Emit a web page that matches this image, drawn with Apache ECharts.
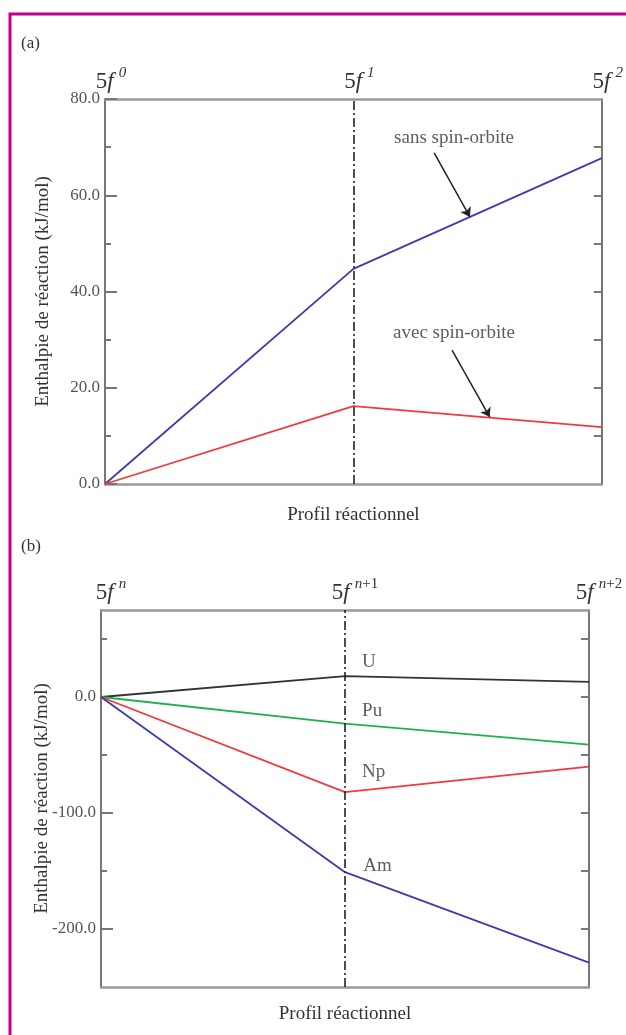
<!DOCTYPE html>
<html>
<head>
<meta charset="utf-8">
<script src="https://cdn.jsdelivr.net/npm/echarts@6/dist/echarts.min.js"></script>
<style>
html,body{margin:0;padding:0;background:#fff;}
#c{width:626px;height:1035px;}
</style>
</head>
<body>
<div id="c"></div>
<script>
// ---------- data ----------
const xPos = [0, 1, 2];
const topSupA = ['0', '1', '2'];
const topSupB = ['n', 'n+1', 'n+2'];

const sansSO = [0, 44.7, 67.7];
const avecSO = [0, 16.2, 11.8];

const seriesU = [0, 18, 13];
const seriesPu = [0, -23, -41];
const seriesNp = [0, -82, -60];
const seriesAm = [0, -151, -229];

const yTicksA = [0, 20, 40, 60, 80];
const yMinorA = [10, 30, 50, 70];
const yRightA = [10, 20, 30, 40, 50, 60, 70];
const yTicksB = [-200, -100, 0];
const yMinorB = [-150, -50, 50];
const yRightB = [-200, -150, -100, -50, 0, 50];

const yTitle = 'Enthalpie de réaction (kJ/mol)';
const xTitle = 'Profil réactionnel';

// annotation positions (data units)
const annotA = [
  {text: 'sans spin-orbite', at: [1.405, 71.9], arrow: [[1.325, 68.8], [1.469, 55.5]]},
  {text: 'avec spin-orbite', at: [1.405, 31.4], arrow: [[1.397, 27.8], [1.549, 13.9]]}
];
const labelsB = [
  {text: 'U', at: [1.07, 30]},
  {text: 'Pu', at: [1.07, -12]},
  {text: 'Np', at: [1.07, -65]},
  {text: 'Am', at: [1.075, -146]}
];

// ---------- style ----------
const SERIF = '"Liberation Serif", "DejaVu Serif", serif';
const TXT = '#333';
const AX = '#777';
const BLUE = '#3c3cae', RED = '#f23a3a', GREEN = '#1fb24a', BLACK = '#333';

const pts = arr => xPos.map((x, i) => [x, arr[i]]);

const richTop = {
  n: {fontFamily: SERIF, fontSize: 23, color: TXT, verticalAlign: 'bottom'},
  f: {fontFamily: SERIF, fontSize: 23, fontStyle: 'italic', color: TXT, verticalAlign: 'bottom'},
  s: {fontFamily: SERIF, fontSize: 15, color: TXT, verticalAlign: 'bottom', padding: [0, 0, 12, 0]},
  si: {fontFamily: SERIF, fontSize: 15, fontStyle: 'italic', color: TXT, verticalAlign: 'bottom', padding: [0, 0, 12, 5]}
};
function topFmt(sups) {
  return function (v) {
    const i = xPos.indexOf(Math.round(v));
    const s = sups[i];
    if (s === undefined) return '';
    if (s[0] === 'n') {
      return '{n|5}{f|f}{si|n}' + (s.length > 1 ? '{s|' + s.slice(1) + '}' : '');
    }
    return '{n|5}{f|f}{si|' + s + '}';
  };
}

function xAxes(gridIndex, sups, nameGap, padLeft) {
  return [
    {
      gridIndex, type: 'value', min: 0, max: 2, position: 'bottom',
      axisLine: {show: true, onZero: false, lineStyle: {color: '#999', width: 2.5}},
      axisTick: {show: false}, axisLabel: {show: false}, splitLine: {show: false},
      name: xTitle, nameLocation: 'middle', nameGap,
      nameTextStyle: {fontFamily: SERIF, fontSize: 19, color: TXT}
    },
    {
      gridIndex, type: 'value', min: 0, max: 2, position: 'top',
      axisLine: {show: true, onZero: false, lineStyle: {color: '#999', width: 2.5}},
      axisTick: {show: false}, splitLine: {show: false},
      axisLabel: {show: true, customValues: xPos, margin: 6, formatter: topFmt(sups),
        rich: richTop, padding: [0, 0, 0, padLeft], align: 'center'}
    }
  ];
}

function yAxes(gridIndex, min, max, ticks, minor, right, nameGap) {
  return [
    {
      gridIndex, type: 'value', min, max, position: 'left',
      axisLine: {show: true, onZero: false, lineStyle: {color: AX, width: 2}},
      axisTick: {show: true, inside: true, length: 12, customValues: ticks, lineStyle: {color: AX, width: 2}},
      axisLabel: {show: true, customValues: ticks, margin: 5, formatter: v => v.toFixed(1),
        fontFamily: SERIF, fontSize: 17, color: '#555'},
      splitLine: {show: false},
      name: yTitle, nameLocation: 'middle', nameGap, nameRotate: 90, nameMoveOverlap: false,
      nameTextStyle: {fontFamily: SERIF, fontSize: 19, color: TXT}
    },
    {
      gridIndex, type: 'value', min, max, position: 'left',
      axisLine: {show: false},
      axisTick: {show: true, inside: true, length: 6, customValues: minor, lineStyle: {color: AX, width: 2}},
      axisLabel: {show: false}, splitLine: {show: false}
    },
    {
      gridIndex, type: 'value', min, max, position: 'right',
      axisLine: {show: true, onZero: false, lineStyle: {color: AX, width: 2}},
      axisTick: {show: true, inside: true, length: 8, customValues: right, lineStyle: {color: AX, width: 2}},
      axisLabel: {show: false}, splitLine: {show: false}
    }
  ];
}

const dashLine = {
  silent: true, symbol: ['none', 'none'], label: {show: false},
  lineStyle: {color: '#222', width: 1.6, type: [9, 3, 2, 3]},
  data: [{xAxis: 1}]
};

function lineSeries(name, data, color, xi, yi, withMark) {
  const s = {
    name, type: 'line', xAxisIndex: xi, yAxisIndex: yi, data: pts(data),
    showSymbol: false, symbol: 'none', lineStyle: {color, width: 1.8}, z: 3, animation: false
  };
  if (withMark) s.markLine = dashLine;
  return s;
}

const option = {
  animation: false,
  backgroundColor: '#fff',
  grid: [
    {left: 105, top: 99, width: 501, height: 385},
    {left: 101, top: 610, width: 488, height: 377}
  ],
  xAxis: [...xAxes(0, topSupA, 22, 12), ...xAxes(1, topSupB, 18, 20)],
  yAxis: [...yAxes(0, 0, 80, yTicksA, yMinorA, yRightA, 52), ...yAxes(1, -250, 75, yTicksB, yMinorB, yRightB, 49)],
  series: [
    lineSeries('sans spin-orbite', sansSO, BLUE, 0, 0, true),
    lineSeries('avec spin-orbite', avecSO, RED, 0, 0, false),
    {
      type: 'lines', coordinateSystem: 'cartesian2d', xAxisIndex: 0, yAxisIndex: 0,
      symbol: ['none', 'arrow'], symbolSize: 9,
      lineStyle: {color: '#222', width: 1.5, opacity: 1},
      data: annotA.map(a => ({coords: a.arrow})), z: 4
    },
    {
      type: 'scatter', xAxisIndex: 0, yAxisIndex: 0, symbolSize: 0,
      data: annotA.map(a => ({value: a.at, name: a.text})),
      label: {show: true, position: [0, 0], align: 'center', verticalAlign: 'middle',
        formatter: p => p.name, fontFamily: SERIF, fontSize: 19, color: TXT}
    },
    lineSeries('U', seriesU, BLACK, 2, 3, true),
    lineSeries('Pu', seriesPu, GREEN, 2, 3, false),
    lineSeries('Np', seriesNp, RED, 2, 3, false),
    lineSeries('Am', seriesAm, BLUE, 2, 3, false),
    {
      type: 'scatter', xAxisIndex: 2, yAxisIndex: 3, symbolSize: 0,
      data: labelsB.map(a => ({value: a.at, name: a.text})),
      label: {show: true, position: [0, 0], align: 'left', verticalAlign: 'middle',
        formatter: p => p.name, fontFamily: SERIF, fontSize: 19, color: TXT}
    }
  ],
  graphic: [
    {type: 'rect', shape: {x: 10, y: 14, width: 700, height: 1100}, style: {fill: 'none', stroke: '#c2008e', lineWidth: 3}, silent: true},
    {type: 'text', left: 21, top: 35, style: {text: '(a)', fontFamily: SERIF, fontSize: 17, fill: TXT}},
    {type: 'text', left: 21, top: 538, style: {text: '(b)', fontFamily: SERIF, fontSize: 17, fill: TXT}}
  ]
};

const chart = echarts.init(document.getElementById('c'), null, {renderer: 'canvas'});
chart.setOption(option);
</script>
</body>
</html>
